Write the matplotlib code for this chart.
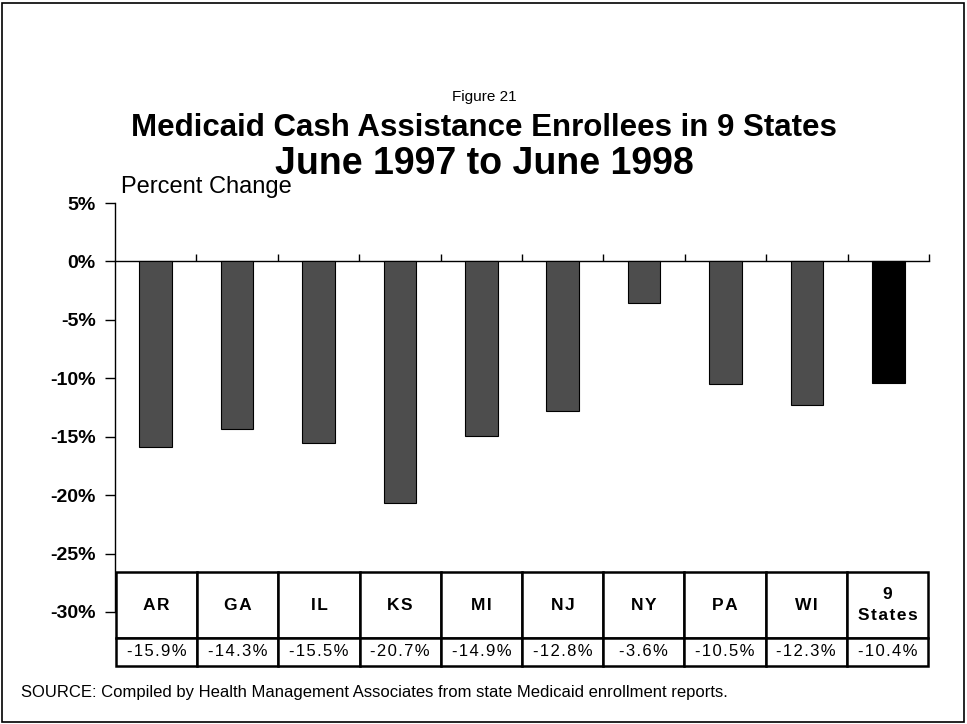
import matplotlib.pyplot as plt
from matplotlib.patches import Rectangle
from matplotlib.ticker import FuncFormatter

states = ['AR', 'GA', 'IL', 'KS', 'MI', 'NJ', 'NY', 'PA', 'WI', '9 States']
header_labels = ['AR', 'GA', 'IL', 'KS', 'MI', 'NJ', 'NY', 'PA', 'WI', '9\nStates']
pct_change = [-15.9, -14.3, -15.5, -20.7, -14.9, -12.8, -3.6, -10.5, -12.3, -10.4]
yticks = [5, 0, -5, -10, -15, -20, -25, -30]

plt.rcParams['font.family'] = ['Liberation Sans', 'DejaVu Sans']

W, H = 967, 724
fig = plt.figure(figsize=(W / 100, H / 100), dpi=100)


def spaced(s):
    # loose letter spacing like the original table text
    return '\n'.join('\u200a'.join(line) for line in s.split('\n'))


# outer frame
fig.patches.append(Rectangle((2 / W, 2 / H), 962 / W, 719 / H, transform=fig.transFigure,
                             fill=False, edgecolor='black', linewidth=1.2))

ax_l, ax_r, ax_t, ax_b = 115, 929, 203, 612
ax = fig.add_axes([ax_l / W, 1 - ax_b / H, (ax_r - ax_l) / W, (ax_b - ax_t) / H])

colors = ['#4d4d4d'] * 9 + ['#000000']
x = list(range(len(states)))
ax.bar(x, pct_change, width=0.4, color=colors, edgecolor='black', linewidth=0.8, zorder=3)

ax.set_xlim(-0.5, len(states) - 0.5)
ax.set_ylim(-30, 5)
ax.set_yticks(yticks)
ax.yaxis.set_major_formatter(FuncFormatter(lambda v, p: f'{v:.0f}%'))
for lbl in ax.get_yticklabels():
    lbl.set_fontweight('bold')
ax.tick_params(axis='y', direction='out', length=7, width=1, labelsize=14, pad=7)

ax.spines['top'].set_visible(False)
ax.spines['right'].set_visible(False)
ax.spines['bottom'].set_position(('data', 0))
ax.spines['left'].set_linewidth(1)
ax.spines['bottom'].set_linewidth(1)
ax.set_xticks([i + 0.5 for i in range(len(states))])
ax.set_xticklabels([])
ax.tick_params(axis='x', direction='in', length=5, width=1)

# data table under the bars
tbl = ax.table(cellText=[[spaced(f'{v:.1f}%') for v in pct_change]],
               colLabels=[spaced(s) for s in header_labels], cellLoc='center',
               bbox=[(116 - ax_l) / (ax_r - ax_l), (ax_b - 666) / (ax_b - ax_t),
                     (928 - 116) / (ax_r - ax_l), (666 - 572) / (ax_b - ax_t)])
tbl.auto_set_font_size(False)
for (r, c), cell in tbl.get_celld().items():
    cell.set_linewidth(1.8)
    cell.set_edgecolor('black')
    cell.set_facecolor('white')
    t = cell.get_text()
    if r == 0:
        cell.set_height(66)
        t.set_fontweight('bold')
        t.set_fontsize(12.5)
        t.set_linespacing(1.5)
    else:
        cell.set_height(28)
        t.set_fontsize(12)
tbl.set_zorder(5)

fig.text(484 / W, 1 - 97 / H, 'Figure 21', ha='center', va='center', fontsize=11)
fig.text(484 / W, 1 - 128 / H, 'Medicaid Cash Assistance Enrollees in 9 States',
         ha='center', va='center', fontsize=22.5, fontweight='bold')
fig.text(484 / W, 1 - 164 / H, 'June 1997 to June 1998',
         ha='center', va='center', fontsize=27, fontweight='bold')
fig.text(121 / W, 1 - 187 / H, 'Percent Change', ha='left', va='center', fontsize=17)
fig.text(21 / W, 1 - 693 / H,
         'SOURCE: Compiled by Health Management Associates from state Medicaid enrollment reports.',
         ha='left', va='center', fontsize=12)

fig.savefig('out.png', dpi=100)
